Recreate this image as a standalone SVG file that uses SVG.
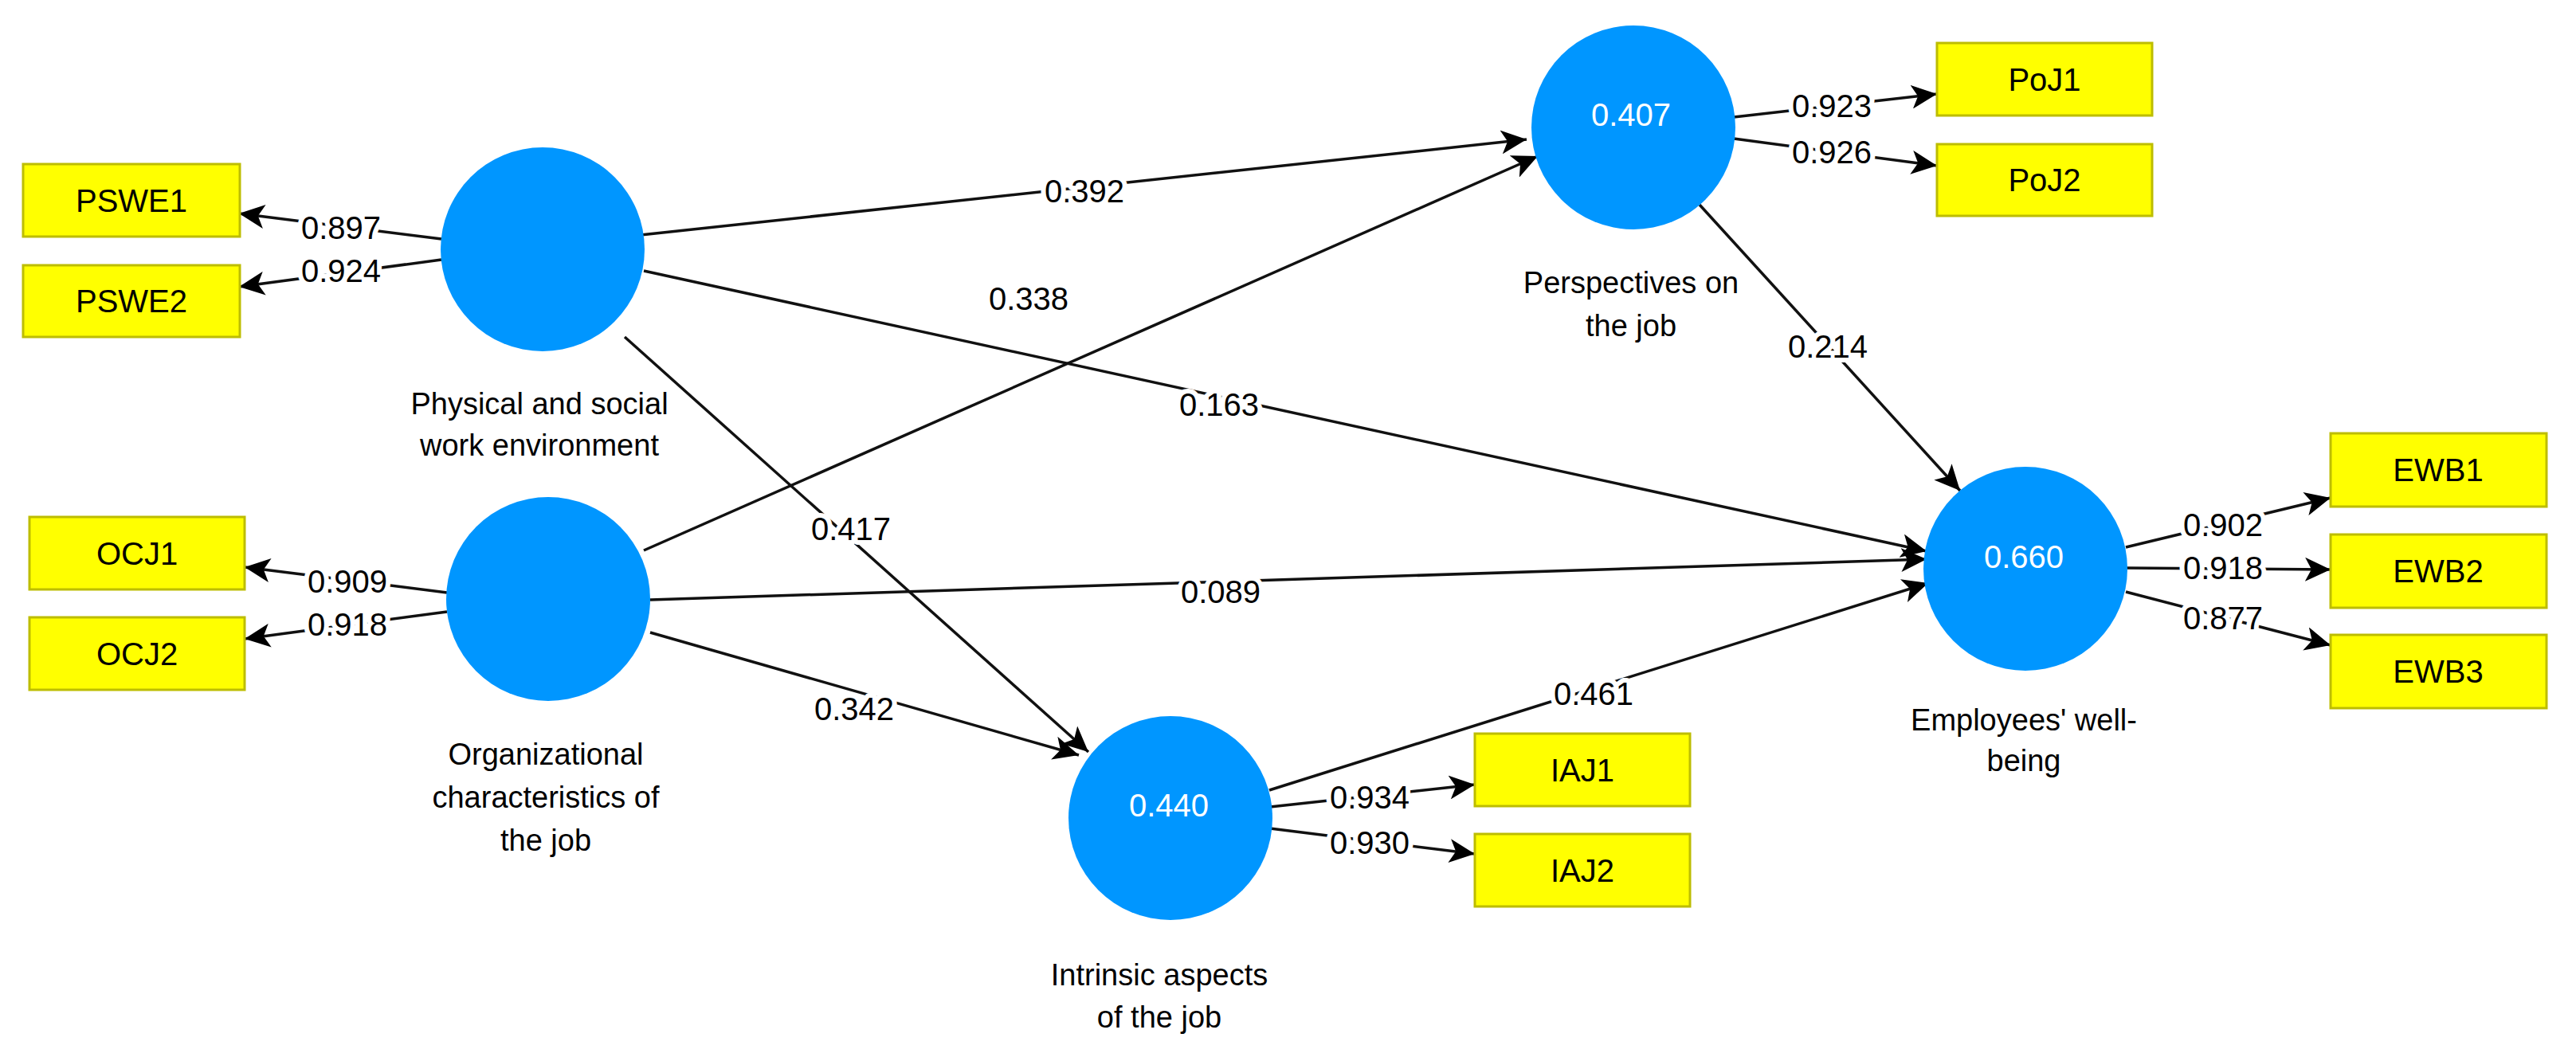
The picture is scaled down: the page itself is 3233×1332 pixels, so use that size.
<svg xmlns="http://www.w3.org/2000/svg" width="3233" height="1332" viewBox="0 0 3233 1332">
<style>
.lv{fill:#0096FF}
.mv rect{fill:#FFFF00;stroke:#BDBD00;stroke-width:3}
.mv text{font-family:"Liberation Sans",Arial,sans-serif;font-size:40px;fill:#000;text-anchor:middle}
.lab{font-family:"Liberation Sans",Arial,sans-serif;font-size:38px;fill:#000;text-anchor:middle}
.r2{font-family:"Liberation Sans",Arial,sans-serif;font-size:40px;fill:#fff;text-anchor:middle}
.e line{stroke:#111;stroke-width:3.5;marker-end:url(#ah)}
.w{font-family:"Liberation Sans",Arial,sans-serif;font-size:40px;fill:#000;text-anchor:middle;stroke:#fff;stroke-width:12;paint-order:stroke;stroke-linejoin:round}
</style>
<defs>
<marker id="ah" markerUnits="userSpaceOnUse" markerWidth="34" markerHeight="30" refX="32" refY="15" orient="auto">
<path d="M0,0 L32,15 L0,30 L8,15 Z" fill="#000"/>
</marker>
</defs>
<rect width="3233" height="1332" fill="#fff"/>
<g id="connectors" class="e">
<line x1="554" y1="300" x2="300" y2="268"/>
<line x1="554" y1="326" x2="300" y2="360"/>
<line x1="561" y1="744" x2="307" y2="712"/>
<line x1="561" y1="768" x2="307" y2="802"/>
<line x1="2176" y1="147" x2="2431" y2="118"/>
<line x1="2176" y1="174" x2="2431" y2="208"/>
<line x1="2668" y1="687" x2="2925" y2="625"/>
<line x1="2668" y1="713" x2="2925" y2="715"/>
<line x1="2668" y1="743" x2="2925" y2="810"/>
<line x1="1594" y1="1013" x2="1851" y2="985"/>
<line x1="1594" y1="1040" x2="1851" y2="1072"/>
<line x1="804" y1="295" x2="1916" y2="175"/>
<line x1="808" y1="340" x2="2418" y2="692"/>
<line x1="784" y1="423" x2="1366" y2="944"/>
<line x1="808" y1="691" x2="1930" y2="196"/>
<line x1="816" y1="753" x2="2418" y2="702"/>
<line x1="816" y1="794" x2="1354" y2="948"/>
<line x1="2133" y1="257" x2="2460" y2="616"/>
<line x1="1593" y1="992" x2="2420" y2="732"/>
</g>
<g id="labels">
<text class="w" x="428" y="300">0.897</text>
<text class="w" x="428" y="354">0.924</text>
<text class="w" x="436" y="744">0.909</text>
<text class="w" x="436" y="798">0.918</text>
<text class="w" x="2299" y="147">0.923</text>
<text class="w" x="2299" y="205">0.926</text>
<text class="w" x="2790" y="673">0.902</text>
<text class="w" x="2790" y="727">0.918</text>
<text class="w" x="2790" y="790">0.877</text>
<text class="w" x="1719" y="1015">0.934</text>
<text class="w" x="1719" y="1072">0.930</text>
<text class="w" x="1361" y="254">0.392</text>
<text class="w" x="1530" y="522">0.163</text>
<text class="w" x="1068" y="678">0.417</text>
<text class="w" x="1291" y="389">0.338</text>
<text class="w" x="1532" y="757">0.089</text>
<text class="w" x="1072" y="904">0.342</text>
<text class="w" x="2294" y="449">0.214</text>
<text class="w" x="2000" y="885">0.461</text>
</g>
<g id="PSWE">
<circle class="lv" cx="681" cy="313" r="128"/>
<text class="lab" x="677" y="520">Physical and social</text>
<text class="lab" x="677" y="572">work environment</text>
</g>
<g id="OCJ">
<circle class="lv" cx="688" cy="752" r="128"/>
<text class="lab" x="685" y="960">Organizational</text>
<text class="lab" x="685" y="1014">characteristics of</text>
<text class="lab" x="685" y="1068">the job</text>
</g>
<g id="PoJ">
<circle class="lv" cx="2050" cy="160" r="128"/>
<text class="r2" x="2047" y="158">0.407</text>
<text class="lab" x="2047" y="368">Perspectives on</text>
<text class="lab" x="2047" y="422">the job</text>
</g>
<g id="IAJ">
<circle class="lv" cx="1469" cy="1027" r="128"/>
<text class="r2" x="1467" y="1025">0.440</text>
<text class="lab" x="1455" y="1237">Intrinsic aspects</text>
<text class="lab" x="1455" y="1290">of the job</text>
</g>
<g id="EWB">
<circle class="lv" cx="2542" cy="714" r="128"/>
<text class="r2" x="2540" y="713">0.660</text>
<text class="lab" x="2540" y="917">Employees' well-</text>
<text class="lab" x="2540" y="968">being</text>
</g>
<g id="PSWE1" class="mv"><rect x="29" y="206" width="272" height="91"/><text x="165" y="266">PSWE1</text></g>
<g id="PSWE2" class="mv"><rect x="29" y="333" width="272" height="90"/><text x="165" y="392">PSWE2</text></g>
<g id="OCJ1" class="mv"><rect x="37" y="649" width="270" height="91"/><text x="172" y="709">OCJ1</text></g>
<g id="OCJ2" class="mv"><rect x="37" y="775" width="270" height="91"/><text x="172" y="835">OCJ2</text></g>
<g id="PoJ1" class="mv"><rect x="2431" y="54" width="270" height="91"/><text x="2566" y="114">PoJ1</text></g>
<g id="PoJ2" class="mv"><rect x="2431" y="181" width="270" height="90"/><text x="2566" y="240">PoJ2</text></g>
<g id="IAJ1" class="mv"><rect x="1851" y="921" width="270" height="91"/><text x="1986" y="981">IAJ1</text></g>
<g id="IAJ2" class="mv"><rect x="1851" y="1047" width="270" height="91"/><text x="1986" y="1107">IAJ2</text></g>
<g id="EWB1" class="mv"><rect x="2925" y="544" width="271" height="92"/><text x="3060" y="604">EWB1</text></g>
<g id="EWB2" class="mv"><rect x="2925" y="671" width="271" height="92"/><text x="3060" y="731">EWB2</text></g>
<g id="EWB3" class="mv"><rect x="2925" y="797" width="271" height="92"/><text x="3060" y="857">EWB3</text></g>
</svg>
